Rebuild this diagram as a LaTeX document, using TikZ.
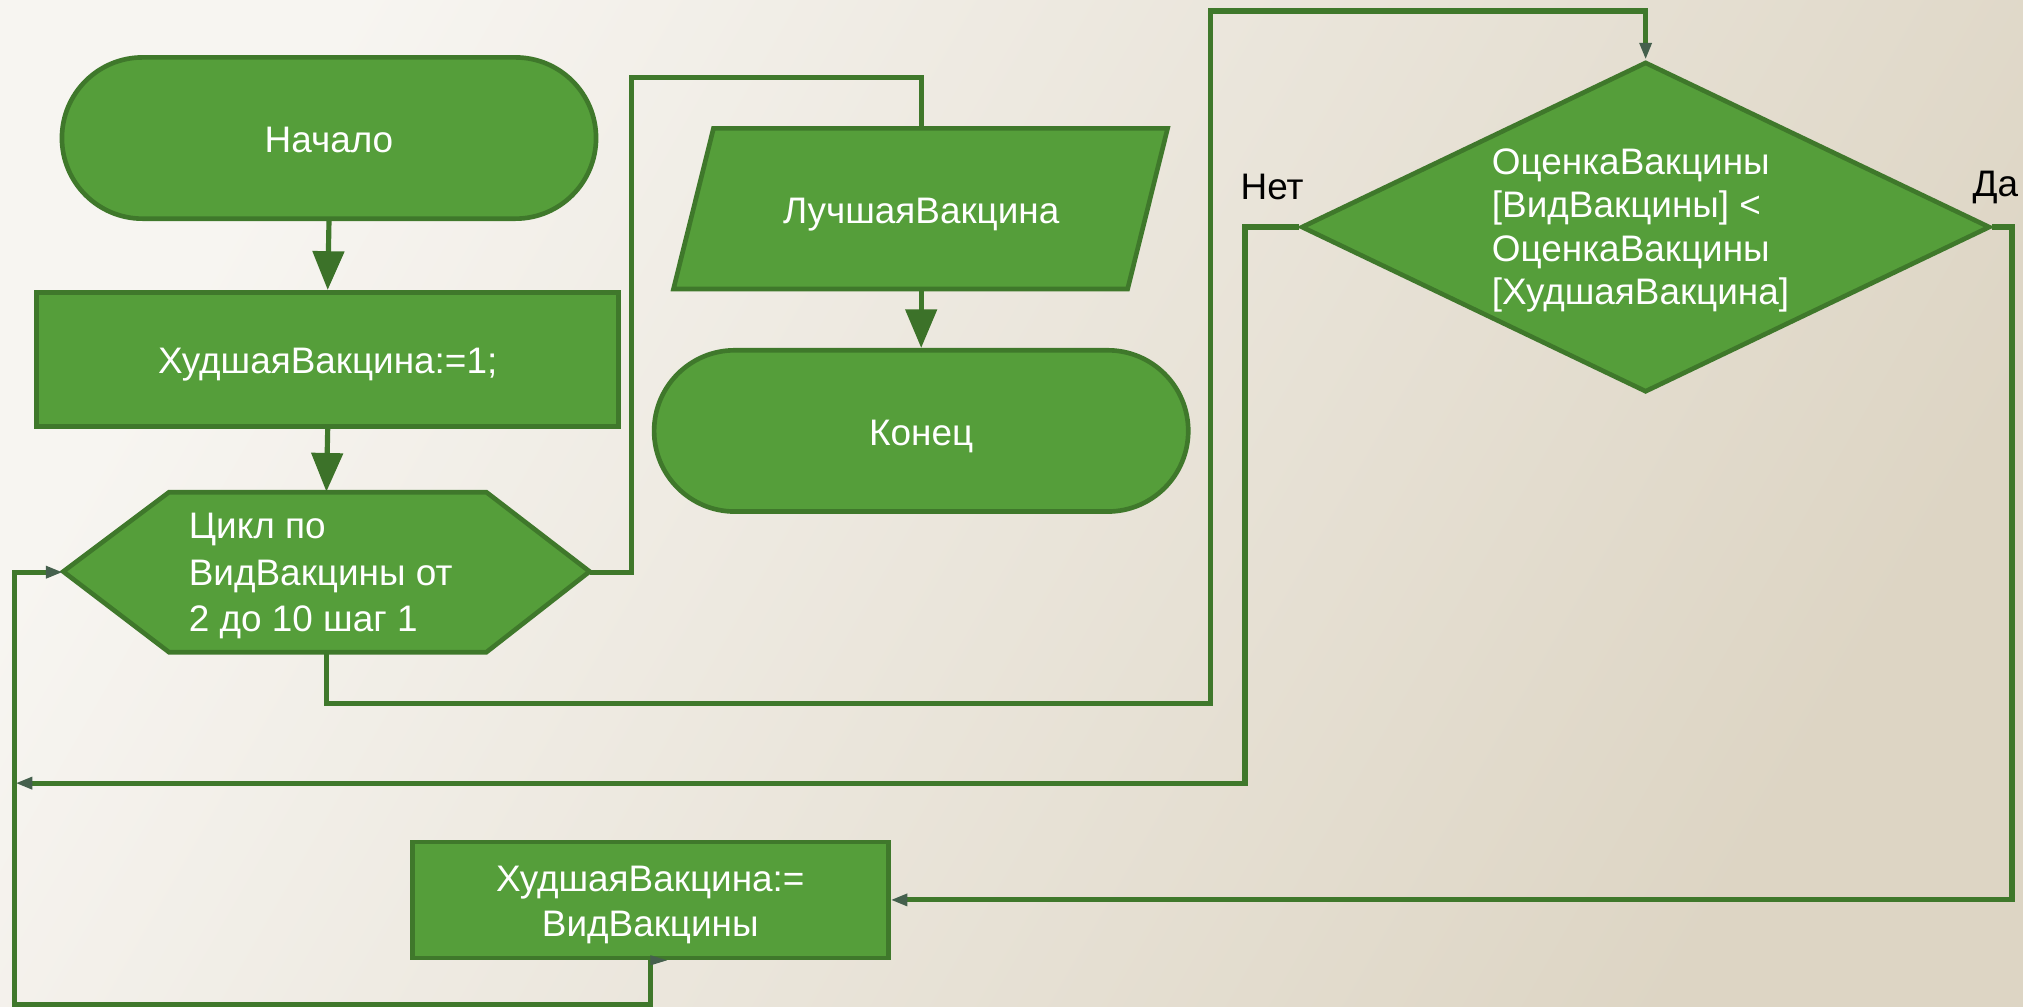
\documentclass[tikz,border=0pt]{standalone}
\usepackage{fontspec}
\setmainfont{Liberation Sans}
\usetikzlibrary{arrows.meta,shapes.misc,shapes.geometric}
\definecolor{bgA}{HTML}{F7F5F1}
\definecolor{bgB}{HTML}{DDD5C4}
\definecolor{gfill}{HTML}{559E3A}
\definecolor{gline}{HTML}{3F782B}
\definecolor{garrow}{HTML}{3C7229}
\definecolor{gsmall}{HTML}{45604D}
\newcommand\dgfont{\fontsize{14.3pt}{17.5pt}\selectfont}
\newcommand\dgfonth{\fontsize{14.3pt}{18pt}\selectfont}
\newcommand\dgfontd{\fontsize{14.3pt}{16.8pt}\selectfont}
\begin{document}
\begin{tikzpicture}[x=0.5pt,y=-0.5pt,
  shapebox/.style={draw=gline,fill=gfill,line width=1.8pt,text=white,font=\dgfont,inner sep=0pt},
  oneline/.style={text height=11.2pt,text depth=0pt},
  plaintext/.style={text=white,font=\dgfont,inner sep=0pt},
  conn/.style={draw=gline,line width=2pt},
  bigarrow/.style={conn,-{Triangle[width=12pt,length=15pt,color=garrow]}},
  smallarrow/.style={conn,-{Triangle[width=4.5pt,length=6.5pt,color=gsmall]}},
  lbl/.style={text=black,font=\dgfont,inner sep=0pt}]
\useasboundingbox (0,0) rectangle (1568,780.5);
\shade[top color=bgA,bottom color=bgB,shading angle=60] (0,0) rectangle (1568,780.5);

% shapes
\node[shapebox,oneline,rounded rectangle,minimum width=207pt,minimum height=62.5pt] (start) at (255,107) {Начало};
\node[shapebox,oneline,rectangle,minimum width=225.5pt,minimum height=52pt] (init) at (254,278.5) {ХудшаяВакцина:=1;};
\draw[shapebox] (49,443) -- (131,381.5) -- (377,381.5) -- (457,443) -- (377,505.5) -- (131,505.5) -- cycle;
\node[inner sep=0pt,minimum width=204pt,minimum height=62pt] (loop) at (253,443.5) {};
\node[plaintext,align=left,anchor=west,font=\dgfonth] (looptext) at (146,446.5) {Цикл по\\ВидВакцины от\\2 до 10 шаг 1};
\draw[shapebox] (553,99.5) -- (905,99.5) -- (874,224) -- (522,224) -- cycle;
\node[plaintext,oneline,minimum width=160pt,minimum height=62pt] (outp) at (714,162) {ЛучшаяВакцина};
\node[shapebox,oneline,rounded rectangle,minimum width=207pt,minimum height=62.5pt] (end) at (714,334) {Конец};
\node[shapebox,diamond,minimum width=267pt,minimum height=128pt] (dec) at (1275.5,176) {};
\node[plaintext,align=left,anchor=west,font=\dgfontd] (dectext) at (1156,178.5) {ОценкаВакцины\\{[}ВидВакцины{]} <\\ОценкаВакцины\\{[}ХудшаяВакцина{]}};
\node[shapebox,rectangle,minimum width=184.5pt,minimum height=45pt] (upd) at (504,697.5) {};
\node[plaintext,align=center] (updtext) at (504,701.5) {ХудшаяВакцина:=\\ВидВакцины};
\node[lbl] (no) at (986,145) {Нет};
\node[lbl] (yes) at (1546.5,145) {Да};

% connectors
\draw[bigarrow] (start.south) -- (init.north);
\draw[bigarrow] (init.south) -- (loop.north);
\draw[conn] (loop.east) -| (489.5,60) -| (outp.north);
\draw[bigarrow] (outp.south) -- (end.north);
\draw[smallarrow] (loop.south) |- (938,545) -- (938,8.5) -| (dec.north);
\draw[smallarrow] (dec.west) -| (965,607) -- (12,607);
\draw[smallarrow] (dec.east) -| (1559.5,697.5) -- (upd.east);
\draw[smallarrow] (upd.south) |- (11,779) |- (loop.west);
\fill[gsmall] (upd.south) ++(0,-4) -- ++(13,4) -- ++(-13,4) -- cycle;
\end{tikzpicture}
\end{document}
